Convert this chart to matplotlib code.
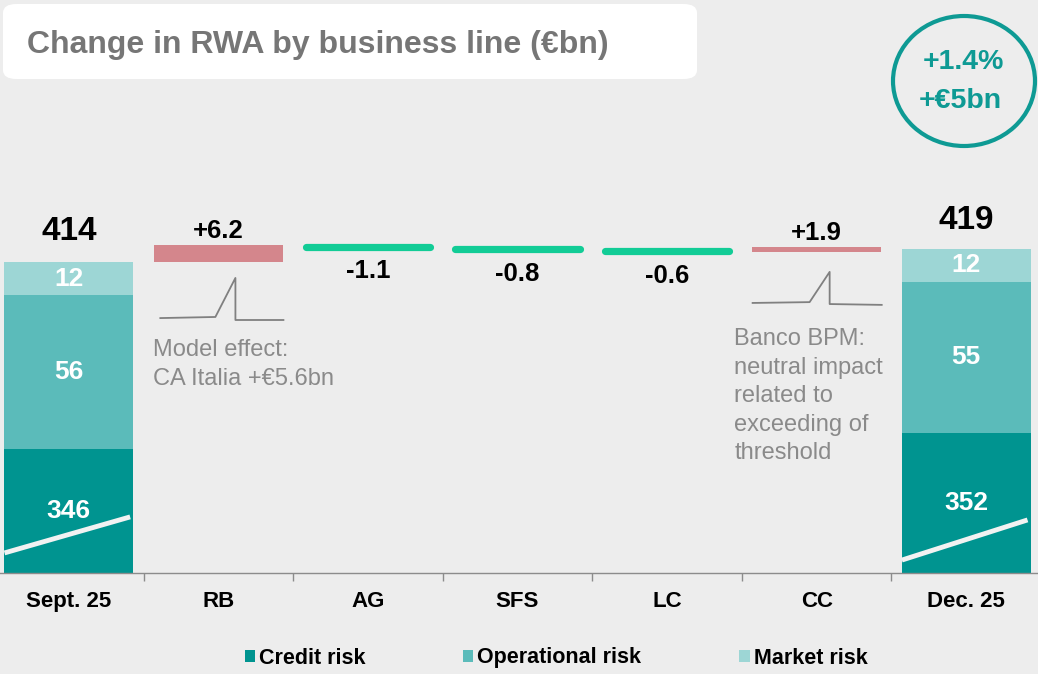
import matplotlib
matplotlib.use("Agg")
import matplotlib.pyplot as plt
from matplotlib.patches import FancyBboxPatch, Ellipse, Patch
import numpy as np

plt.rcParams['font.family'] = ['Liberation Sans', 'DejaVu Sans']

# data
categories = ["Sept. 25", "RB", "AG", "SFS", "LC", "CC", "Dec. 25"]
start_parts = [346, 56, 12]      # credit, operational, market
end_parts = [352, 55, 12]
start_total = 414
end_total = 419
deltas = [6.2, -1.1, -0.8, -0.6, 1.9]
delta_labels = ["+6.2", "-1.1", "-0.8", "-0.6", "+1.9"]
part_names = ["Credit risk", "Operational risk", "Market risk"]

bg = "#EDEDED"
part_colors = ["#009490", "#5BBBBA", "#9DD6D5"]
up_color = "#D4868C"
down_color = "#12CC96"
teal = "#0E9A94"
grey_txt = "#8A8A8A"

fig = plt.figure(figsize=(10.38, 6.74), dpi=100, facecolor=bg)
ax = fig.add_axes([0, 101 / 674, 1, 573 / 674])
ax.set_facecolor(bg)
y0 = 301
ax.set_ylim(y0, y0 + 573 / 2.75)
ax.set_xlim(-0.46, 6.48)
x = np.arange(len(categories))
w = 0.86

# stacked totals
for xi, parts, total, off in [(0, start_parts, start_total, 11), (6, end_parts, end_total, 9)]:
    bottom = 0
    for val, col in zip(parts, part_colors):
        ax.bar(xi, val, w, bottom=bottom, color=col, zorder=2)
        vis_lo = max(bottom, y0)
        ax.text(xi, (vis_lo + bottom + val) / 2, str(val), ha="center", va="center",
                color="white", fontsize=19, fontweight="bold", zorder=4)
        bottom += val
    ax.annotate(str(total), (xi, bottom), xytext=(0, off), textcoords="offset points",
                ha="center", va="bottom", fontsize=24, fontweight="bold", color="black")

# axis-break marks on the credit bars
for xi, (ya, yb) in [(0, (308.3, 321.4)), (6, (305.7, 320.3))]:
    ax.plot([xi - 0.43, xi + 0.41], [ya, yb], color="#F2F2F2", lw=3.5, zorder=3,
            solid_capstyle="butt")

# waterfall steps
level = start_total
for i, (d, lab) in enumerate(zip(deltas, delta_labels)):
    xi = i + 1
    lo, hi = min(level, level + d), max(level, level + d)
    if d > 0:
        ax.bar(xi, d, w, bottom=lo, color=up_color, zorder=2)
        ax.annotate(lab, (xi, hi), xytext=(0, 1.5), textcoords="offset points",
                    ha="center", va="bottom", fontsize=18.5, fontweight="bold")
    else:
        mid = (lo + hi) / 2
        ax.plot([xi - 0.415, xi + 0.415], [mid, mid], color=down_color, lw=5.2,
                solid_capstyle="round", zorder=2)
        ax.annotate(lab, (xi, mid), xytext=(0, -9), textcoords="offset points",
                    ha="center", va="top", fontsize=18.5, fontweight="bold")
    level += d

# break glyphs under RB and CC
glyph_rb = ([-0.388, -0.02, 0.114, 0.114, 0.435], [393.7, 394.1, 408.3, 393.0, 393.0])
glyph_cc = ([-0.428, -0.047, 0.087, 0.087, 0.435], [399.2, 399.5, 410.5, 398.8, 398.5])
for xi, (gx, gy) in [(1, glyph_rb), (5, glyph_cc)]:
    ax.plot(np.array(gx) + xi, gy, color="#808080", lw=1.3, zorder=2)

ax.text(0.56, 386, "Model effect:\nCA Italia +€5.6bn", ha="left", va="top",
        fontsize=17, color=grey_txt, linespacing=1.38)
ax.text(4.45, 390, "Banco BPM:\nneutral impact\nrelated to\nexceeding of\nthreshold",
        ha="left", va="top", fontsize=17, color=grey_txt, linespacing=1.38)

# axes styling
for s in ["top", "right", "left"]:
    ax.spines[s].set_visible(False)
ax.spines["bottom"].set_color("#8C8C8C")
ax.spines["bottom"].set_linewidth(1.0)
ax.set_yticks([])
ax.set_xticks(x)
ax.set_xticklabels(categories, fontsize=16, fontweight="bold")
ax.tick_params(axis="x", which="major", length=0, pad=13)
ax.set_xticks(np.arange(0.5, 6, 1), minor=True)
ax.tick_params(axis="x", which="minor", length=6, color="#8C8C8C", width=1.0)

# title box
box = FancyBboxPatch((3 / 1038, 1 - 79 / 674), 694 / 1038, 75 / 674,
                     boxstyle="round,pad=0,rounding_size=0.013", transform=fig.transFigure,
                     facecolor="white", edgecolor="none")
fig.patches.append(box)
fig.text(27 / 1038, 1 - 45 / 674, "Change in RWA by business line (€bn)", ha="left",
         va="center", fontsize=23, fontweight="bold", color="#767676")

# circle callout
ell = Ellipse((964 / 1038, 1 - 81 / 674), 142 / 1038, 130 / 674, transform=fig.transFigure,
              facecolor="none", edgecolor=teal, lw=3)
fig.patches.append(ell)
fig.text(963 / 1038, 1 - 62 / 674, "+1.4%", ha="center", va="center", fontsize=20.5,
         fontweight="bold", color=teal)
fig.text(960 / 1038, 1 - 101 / 674, "+€5bn", ha="center", va="center", fontsize=20.5,
         fontweight="bold", color=teal)

# legend
handles = [Patch(facecolor=c, edgecolor="none", label=n) for c, n in zip(part_colors, part_names)]
fig.legend(handles=handles, loc="center", bbox_to_anchor=(556 / 1038, 1 - 658 / 674), ncol=3,
           frameon=False, prop={"weight": "bold", "size": 15.5}, handlelength=0.47,
           handleheight=0.47, handletextpad=0.19, columnspacing=4.55)

fig.savefig("out.png", dpi=100, facecolor=bg)
